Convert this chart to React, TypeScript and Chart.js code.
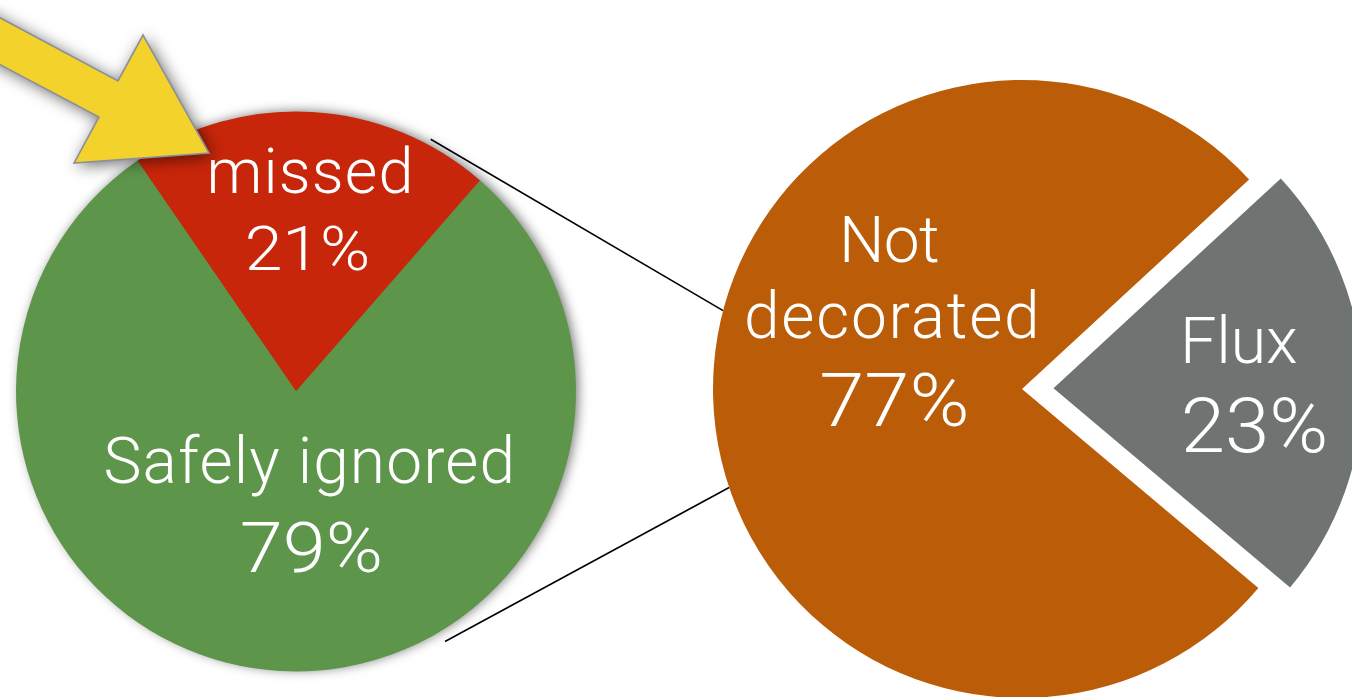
import React, { useEffect, useRef } from "react";
import { Chart, registerables } from "chart.js";

Chart.register(...registerables);

const W = 1352;
const H = 697;

// ---- data ----
const leftCategories = ["missed", "Safely ignored"];
const leftValues = [21, 79];
const leftColors = ["#C8260A", "#5D964A"];

const rightCategories = ["Not decorated", "Flux"];
const rightValues = [77, 23];
const rightColors = ["#BA5C08", "#6F7472"];

// label text lines (category names broken for display)
const leftNameLines = [["missed"], ["Safely ignored"]];
const rightNameLines = [["Not", "decorated"], ["Flux"]];

// ---- styles / layout (not data) ----
const FONT = 'Roboto, "Helvetica Neue", Arial, sans-serif';
const leftLabelStyle = [
  { lines: [{ dx: 14, dy: -198.5, size: 63, w: 199 }], pct: { dx: 12, dy: -121.5, size: 61, w: 120 } },
  { lines: [{ dx: 12, dy: 91.5, size: 64, w: 405 }], pct: { dx: 15, dy: 180.5, size: 70, w: 138 } },
];
const rightLabelStyle = [
  {
    lines: [
      { dx: -131, dy: -126.7, size: 64, w: 94 },
      { dx: -131, dy: -50.7, size: 64, w: 288 },
    ],
    pct: { dx: -128, dy: 37, size: 74, w: 145 },
  },
  { lines: [{ dx: 219, dy: -25.7, size: 65, w: 112 }], pct: { dx: 232.5, dy: 63.3, size: 76, w: 141 } },
];

// names: fit ink width with letter spacing
function fitSpaced(ctx: any, text: string, cx: number, y: number, size: number, target: number) {
  ctx.font = `300 ${size}px ${FONT}`;
  ctx.textAlign = "left";
  const hasLS = "letterSpacing" in ctx;
  if (hasLS) ctx.letterSpacing = "0px";
  const m = ctx.measureText(text);
  const abl = m.actualBoundingBoxLeft;
  const ink = abl + m.actualBoundingBoxRight;
  const n = Array.from(text).length;
  const s = hasLS && n > 1 ? (target - ink) / (n - 1) : 0;
  if (hasLS) ctx.letterSpacing = `${s}px`;
  const realW = ink + s * (n - 1);
  ctx.fillText(text, cx - realW / 2 + abl, y);
  if (hasLS) ctx.letterSpacing = "0px";
}

// percentages: fit ink width with a horizontal stretch (wider digits)
function fitStretched(ctx: any, text: string, cx: number, y: number, size: number, target: number) {
  ctx.font = `300 ${size}px ${FONT}`;
  ctx.textAlign = "left";
  if ("letterSpacing" in ctx) ctx.letterSpacing = "0px";
  const m = ctx.measureText(text);
  const abl = m.actualBoundingBoxLeft;
  const ink = abl + m.actualBoundingBoxRight;
  const sx = ink > 0 ? target / ink : 1;
  ctx.save();
  ctx.translate(cx - target / 2, y);
  ctx.scale(sx, 1);
  ctx.fillText(text, abl, 0);
  ctx.restore();
}

function drawLabels(chart: any, nameLines: string[][], values: number[], styles: any[]) {
  const meta = chart.getDatasetMeta(0);
  const arc = meta.data[0];
  if (!arc) return;
  const cx = arc.x;
  const cy = arc.y;
  const ctx = chart.ctx;
  ctx.save();
  ctx.fillStyle = "#ffffff";
  ctx.textBaseline = "alphabetic";
  styles.forEach((st, i) => {
    st.lines.forEach((ln: any, j: number) => {
      fitSpaced(ctx, nameLines[i][j], cx + ln.dx, cy + ln.dy, ln.size, ln.w);
    });
    fitStretched(ctx, `${values[i]}%`, cx + st.pct.dx, cy + st.pct.dy, st.pct.size, st.pct.w);
  });
  ctx.restore();
}

export default function App() {
  const leftRef = useRef<HTMLCanvasElement | null>(null);
  const rightRef = useRef<HTMLCanvasElement | null>(null);

  useEffect(() => {
    document.body.style.margin = "0";
    const leftPie = new Chart(leftRef.current as HTMLCanvasElement, {
      type: "pie",
      data: {
        labels: leftCategories,
        datasets: [
          {
            data: leftValues,
            backgroundColor: leftColors,
            borderWidth: 0,
            hoverOffset: 0,
            clip: false,
          } as any,
        ],
      },
      options: {
        responsive: false,
        animation: false,
        devicePixelRatio: 1,
        events: [],
        rotation: -34.5,
        radius: 280,
        layout: { padding: { left: 16, right: W - 576, top: 111, bottom: 25 } },
        plugins: { legend: { display: false }, tooltip: { enabled: false } },
      } as any,
      plugins: [
        {
          id: "leftDeco",
          beforeDatasetsDraw(chart: any) {
            const arc = chart.getDatasetMeta(0).data[0];
            if (!arc) return;
            const ctx = chart.ctx;
            ctx.save();
            ctx.shadowColor = "rgba(0,0,0,0.55)";
            ctx.shadowBlur = 12;
            ctx.shadowOffsetX = 3;
            ctx.shadowOffsetY = -1;
            ctx.fillStyle = leftColors[1];
            ctx.beginPath();
            ctx.arc(arc.x, arc.y, arc.outerRadius - 1, 0, Math.PI * 2);
            ctx.fill();
            ctx.restore();
          },
          afterDraw(chart: any) {
            drawLabels(chart, leftNameLines, leftValues, leftLabelStyle);
            // annotation arrow
            const ctx = chart.ctx;
            ctx.save();
            ctx.beginPath();
            ctx.moveTo(-20, 7);
            ctx.lineTo(118, 81);
            ctx.lineTo(143, 35);
            ctx.lineTo(209, 153);
            ctx.lineTo(74, 163);
            ctx.lineTo(99, 117);
            ctx.lineTo(-20, 54);
            ctx.closePath();
            ctx.shadowColor = "rgba(0,0,0,0.6)";
            ctx.shadowBlur = 16;
            ctx.shadowOffsetX = 3;
            ctx.shadowOffsetY = 3;
            ctx.fillStyle = "#F4D22C";
            ctx.fill();
            ctx.shadowColor = "transparent";
            ctx.lineWidth = 1.6;
            ctx.strokeStyle = "#8C9098";
            ctx.lineJoin = "miter";
            ctx.stroke();
            ctx.restore();
          },
        },
      ],
    });

    const rightPie = new Chart(rightRef.current as HTMLCanvasElement, {
      type: "pie",
      data: {
        labels: rightCategories,
        datasets: [
          {
            data: rightValues,
            backgroundColor: rightColors,
            borderWidth: 0,
            hoverOffset: 0,
            offset: [0, 126],
            clip: false,
          } as any,
        ],
      },
      options: {
        responsive: false,
        animation: false,
        devicePixelRatio: 1,
        events: [],
        rotation: 130.1,
        radius: 309,
        layout: { padding: { left: 713, right: 21, top: 81, bottom: 0 } },
        plugins: { legend: { display: false }, tooltip: { enabled: false } },
      } as any,
      plugins: [
        {
          id: "rightDeco",
          beforeDatasetsDraw(chart: any) {
            // connector lines from the "missed" slice of the left pie to this pie
            const la = leftPie.getDatasetMeta(0).data[0] as any;
            const ra = chart.getDatasetMeta(0).data[0];
            if (!la || !ra) return;
            const deg = Math.PI / 180;
            const pts = [
              [la.x + (la.outerRadius + 6) * Math.cos(-61.9 * deg), la.y + (la.outerRadius + 6) * Math.sin(-61.9 * deg),
               ra.x + ra.outerRadius * Math.cos(194.7 * deg), ra.y + ra.outerRadius * Math.sin(194.7 * deg)],
              [la.x + (la.outerRadius + 11) * Math.cos(59.2 * deg), la.y + (la.outerRadius + 11) * Math.sin(59.2 * deg),
               ra.x + ra.outerRadius * Math.cos(161.4 * deg), ra.y + ra.outerRadius * Math.sin(161.4 * deg)],
            ];
            const ctx = chart.ctx;
            ctx.save();
            ctx.strokeStyle = "#000";
            ctx.lineWidth = 1.6;
            pts.forEach((p) => {
              ctx.beginPath();
              ctx.moveTo(p[0], p[1]);
              ctx.lineTo(p[2], p[3]);
              ctx.stroke();
            });
            ctx.restore();
          },
          afterDraw(chart: any) {
            drawLabels(chart, rightNameLines, rightValues, rightLabelStyle);
          },
        },
      ],
    });

    return () => {
      rightPie.destroy();
      leftPie.destroy();
    };
  }, []);

  return (
    <div
      style={{
        position: "absolute",
        left: 0,
        top: 0,
        width: W,
        height: H,
        overflow: "hidden",
        background: "#ffffff",
      }}
    >
      <canvas ref={leftRef} width={W} height={H} style={{ position: "absolute", left: 0, top: 0, width: W, height: H }} />
      <canvas ref={rightRef} width={W} height={H} style={{ position: "absolute", left: 0, top: 0, width: W, height: H }} />
    </div>
  );
}
